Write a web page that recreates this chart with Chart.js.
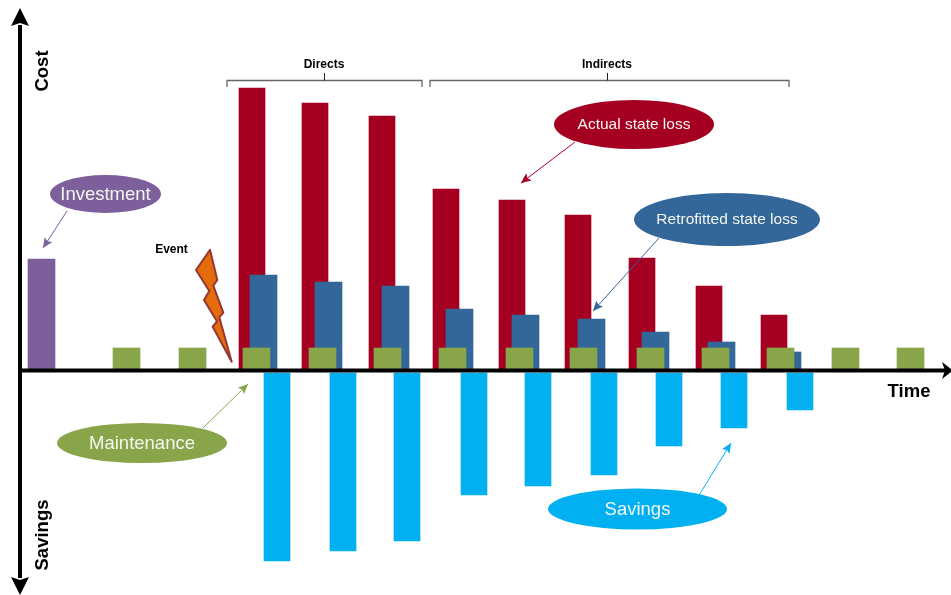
<!DOCTYPE html>
<html>
<head>
<meta charset="utf-8">
<title>Cost and savings over time</title>
<style>
  html, body { margin: 0; padding: 0; background: #fff; }
  canvas { display: block; }
</style>
<script src="https://cdn.jsdelivr.net/npm/chart.js@4/dist/chart.umd.min.js"></script>
</head>
<body>
<canvas id="costChart" width="951" height="595"></canvas>
<script>
// time position of every bar, and its cost (+) or saving (-)
const investmentTime = [41.5];
const investmentValues = [111];

const actualLossTime = [252, 315, 382, 446, 512, 578, 642, 709, 774];
const actualLossValues = [282, 267, 254, 181, 170, 155, 112, 84, 55];

const retrofittedLossTime = [263.5, 328.5, 395.5, 459.5, 525.5, 591.5, 655.5, 721.5, 787.5];
const retrofittedLossValues = [95, 88, 84, 61, 55, 51, 38, 28, 18];

const maintenanceTime = [126.5, 192.5, 256.5, 322.5, 387.5, 452.5, 519.5, 583.5, 650.5, 715.5, 780.5, 845.5, 910.5];
const maintenanceValues = [22, 22, 22, 22, 22, 22, 22, 22, 22, 22, 22, 22, 22];

const savingsTime = [277, 343, 407, 474, 538, 604, 669, 734, 800];
const savingsValues = [-191, -181, -171, -125, -116, -105, -76, -58, -40];

const RED = "#A50021";
const BLUE = "#336699";
const GREEN = "#89A54A";
const PURPLE = "#7D5F9B";
const CYAN = "#00B0F0";
const FONT = '"Liberation Sans", Arial, sans-serif';

const makeDataset = (times, values, color, thickness, order, base) => {
    const dataset = {
        data: times.map((time, index) => ({ x: time, y: values[index] })),
        backgroundColor: color,
        barThickness: thickness,
        order: order,
    };
    if (base !== undefined) {
        dataset.base = base;
    }
    return dataset;
};

// callouts, all in the chart's own x / y units
const callouts = [
    { text: "Investment", x: 105.5, y: 176, rx: 55.5, ry: 19, color: PURPLE, size: 18.5, from: [67, 159], to: [43, 122] },
    { text: "Actual state loss", x: 634, y: 245.5, rx: 80, ry: 24.5, color: RED, size: 15.5, from: [575, 228], to: [521, 187] },
    { text: "Retrofitted state loss", x: 727, y: 150.5, rx: 93, ry: 26.5, color: BLUE, size: 15.5, from: [659, 132], to: [593, 59] },
    { text: "Maintenance", x: 142, y: -73, rx: 85, ry: 20, color: GREEN, size: 18.5, from: [203, -58], to: [248, -14] },
    { text: "Savings", x: 637.5, y: -139, rx: 89.5, ry: 20.5, color: CYAN, size: 18.5, from: [698, -127], to: [731, -73] },
];

const boltOutline = [
    [210, 120.3], [217.3, 90], [213.3, 84.3], [223.3, 57.3], [219.3, 52.7], [231.7, 8.3],
    [212.7, 43.3], [217, 48.5], [204, 70], [209.3, 79], [196, 100],
];

const brackets = [
    { text: "Directs", left: 227, right: 422, middle: 324 },
    { text: "Indirects", left: 430, right: 789, middle: 607 },
];

// stealth arrow head, pointing from (x0,y0) to (x1,y1)
const drawHead = (ctx, x0, y0, x1, y1, length, halfWidth, notch) => {
    const angle = Math.atan2(y1 - y0, x1 - x0);
    ctx.save();
    ctx.translate(x1, y1);
    ctx.rotate(angle);
    ctx.beginPath();
    ctx.moveTo(0, 0);
    ctx.lineTo(-length, -halfWidth);
    ctx.lineTo(-notch, 0);
    ctx.lineTo(-length, halfWidth);
    ctx.closePath();
    ctx.fill();
    ctx.restore();
};

const drawText = (ctx, text, x, y, font, color, rotation) => {
    ctx.save();
    ctx.translate(x, y);
    ctx.rotate(rotation || 0);
    ctx.font = font;
    ctx.fillStyle = color;
    ctx.textAlign = "center";
    ctx.textBaseline = "middle";
    ctx.fillText(text, 0, 0);
    ctx.restore();
};

const annotations = {
    id: "annotations",
    afterDatasetsDraw(chart) {
        const ctx = chart.ctx;
        const px = chart.scales.x;
        const py = chart.scales.y;
        const X = (value) => px.getPixelForValue(value);
        const Y = (value) => py.getPixelForValue(value);

        ctx.save();

        // cost / savings axis and time axis
        ctx.strokeStyle = "#000";
        ctx.fillStyle = "#000";
        ctx.lineWidth = 4;
        ctx.beginPath();
        ctx.moveTo(X(20), Y(345));
        ctx.lineTo(X(20), Y(-208));
        ctx.moveTo(X(18), Y(-0.5));
        ctx.lineTo(X(946), Y(-0.5));
        ctx.stroke();
        drawHead(ctx, X(20), Y(345), X(20), Y(362), 18, 9, 15);
        drawHead(ctx, X(20), Y(-208), X(20), Y(-225), 18, 9, 15);
        drawHead(ctx, X(940), Y(-0.5), X(953), Y(-0.5), 11, 8.5, 8);

        drawText(ctx, "Cost", X(43), Y(299), "bold 18.5px " + FONT, "#000", -Math.PI / 2);
        drawText(ctx, "Savings", X(43), Y(-165), "bold 18.5px " + FONT, "#000", -Math.PI / 2);
        drawText(ctx, "Time", X(909), Y(-22), "bold 18.5px " + FONT, "#000");

        // brackets over the direct and indirect phases
        brackets.forEach(bracket => {
            ctx.strokeStyle = "#666";
            ctx.lineWidth = 1.3;
            ctx.beginPath();
            ctx.moveTo(X(bracket.left), Y(283));
            ctx.lineTo(X(bracket.left), Y(289.5));
            ctx.lineTo(X(bracket.right), Y(289.5));
            ctx.lineTo(X(bracket.right), Y(283));
            ctx.stroke();
            ctx.strokeStyle = "#222";
            ctx.lineWidth = 1;
            ctx.beginPath();
            ctx.moveTo(X(bracket.middle) + 0.5, Y(289.5));
            ctx.lineTo(X(bracket.middle) + 0.5, Y(297));
            ctx.stroke();
            drawText(ctx, bracket.text, X(bracket.middle), Y(305.5), "bold 12px " + FONT, "#000");
        });

        // lightning bolt for the event
        ctx.beginPath();
        boltOutline.forEach((point, index) => {
            if (index === 0) {
                ctx.moveTo(X(point[0]), Y(point[1]));
            } else {
                ctx.lineTo(X(point[0]), Y(point[1]));
            }
        });
        ctx.closePath();
        ctx.fillStyle = "#E46C0A";
        ctx.fill();
        ctx.strokeStyle = "#953735";
        ctx.lineWidth = 2;
        ctx.lineJoin = "round";
        ctx.stroke();
        drawText(ctx, "Event", X(171.5), Y(120), "bold 12px " + FONT, "#000");

        // labelled ellipses with their pointers
        callouts.forEach(callout => {
            ctx.strokeStyle = callout.color;
            ctx.fillStyle = callout.color;
            ctx.lineWidth = 1;
            ctx.beginPath();
            ctx.moveTo(X(callout.from[0]), Y(callout.from[1]));
            ctx.lineTo(X(callout.to[0]), Y(callout.to[1]));
            ctx.stroke();
            drawHead(ctx, X(callout.from[0]), Y(callout.from[1]), X(callout.to[0]), Y(callout.to[1]), 10, 4.5, 8);

            ctx.fillStyle = callout.color;
            ctx.beginPath();
            ctx.ellipse(X(callout.x), Y(callout.y), callout.rx, callout.ry, 0, 0, Math.PI * 2);
            ctx.fill();
            drawText(ctx, callout.text, X(callout.x), Y(callout.y) + 0.5, callout.size + "px " + FONT, "#F4F6F0");
        });

        ctx.restore();
    },
};

new Chart(document.getElementById("costChart"), {
    type: "bar",
    data: {
        datasets: [
            makeDataset(investmentTime, investmentValues, PURPLE, 27, 4),
            makeDataset(actualLossTime, actualLossValues, RED, 26, 3),
            makeDataset(retrofittedLossTime, retrofittedLossValues, BLUE, 27, 2),
            makeDataset(savingsTime, savingsValues, CYAN, 26, 2, -3),
            makeDataset(maintenanceTime, maintenanceValues, GREEN, 27, 1),
        ],
    },
    options: {
        responsive: false,
        animation: false,
        layout: { padding: 0 },
        datasets: { bar: { grouped: false } },
        scales: {
            x: { type: "linear", min: 0, max: 951, display: false, offset: false },
            y: { min: -225, max: 370, display: false },
        },
        plugins: {
            legend: { display: false },
            tooltip: { enabled: false },
        },
    },
    plugins: [annotations],
});
</script>
</body>
</html>
